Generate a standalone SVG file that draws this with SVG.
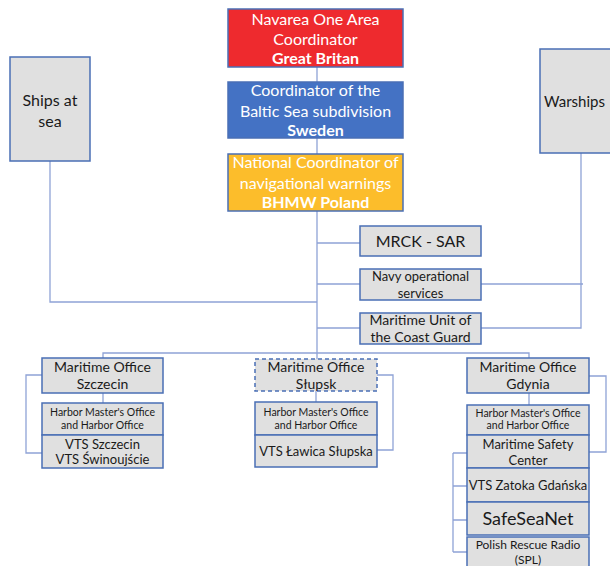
<svg xmlns="http://www.w3.org/2000/svg" width="610" height="566" viewBox="0 0 610 566">
<style>
text{font-family:Lato,"Open Sans","DejaVu Sans",sans-serif;text-anchor:middle;fill:#1a1a1a}
.box{fill:#e0e0e0;stroke:#4a6fb5;stroke-width:1.5}
.w{fill:#ffffff}
.b{font-weight:bold}
.f16{font-size:16px}
.f14{font-size:14px}
.f13{font-size:13px}
.f12{font-size:12px}
.f11{font-size:10.5px}
.f17{font-size:18px}
#connectors path{fill:none;stroke:#8fa3d6;stroke-width:1.3}
</style>
<rect width="610" height="566" fill="#ffffff"/>
<g id="connectors">
<path d="M317 67V82M317 138V154M317 211V359"/>
<path d="M317 243H360M317 284H360M317 328H360"/>
<path d="M50 161V302H317"/>
<path d="M581 153V328H481M481 284H583"/>
<path d="M103 358V353H529V358"/>
<path d="M103 393V403M42 375H26V453H42"/>
<path d="M316 391V402M377 375H393V450H377"/>
<path d="M529 393V405M589 376H606V452H589"/>
<path d="M453 453V552M453 453H467M453 486H467M453 520H467M453 552H467"/>
</g>
<g id="navarea">
<rect x="228" y="9" width="175" height="58" fill="#ee2a2e" stroke="#4a6fb5" stroke-width="1.5"/>
<text class="w f16" x="315.5" y="25">Navarea One Area</text>
<text class="w f16" x="315.5" y="45">Coordinator</text>
<text class="w f16 b" x="315.5" y="64">Great Britan</text>
</g>
<g id="baltic">
<rect x="228" y="82" width="175" height="56" fill="#4472c4" stroke="#4a6fb5" stroke-width="1.5"/>
<text class="w f16" x="315.5" y="96">Coordinator of the</text>
<text class="w f16" x="315.5" y="117">Baltic Sea subdivision</text>
<text class="w f16 b" x="315.5" y="136">Sweden</text>
</g>
<g id="national">
<rect x="228" y="154" width="175" height="57" fill="#fcbd2b" stroke="#4a6fb5" stroke-width="1.5"/>
<text class="w f16" x="315.5" y="168">National Coordinator of</text>
<text class="w f16" x="315.5" y="189">navigational warnings</text>
<text class="w f16 b" x="315.5" y="208">BHMW Poland</text>
</g>
<g id="ships">
<rect class="box" x="10" y="57" width="80" height="104"/>
<text class="f16" x="50" y="106">Ships at</text>
<text class="f16" x="50" y="127">sea</text>
</g>
<g id="warships">
<rect class="box" x="540" y="49" width="80" height="104"/>
<text x="544" y="107" style="text-anchor:start;font-size:15px">Warships</text>
</g>
<g id="mrck">
<rect class="box" x="360" y="226" width="121" height="30"/>
<text class="f16" x="420.5" y="247">MRCK - SAR</text>
</g>
<g id="navy">
<rect class="box" x="360" y="269" width="121" height="31"/>
<text class="f13" x="420.5" y="281">Navy operational</text>
<text class="f13" x="420.5" y="298">services</text>
</g>
<g id="coastguard">
<rect class="box" x="360" y="313" width="121" height="31"/>
<text class="f14" x="420.5" y="325">Maritime Unit of</text>
<text class="f14" x="420.5" y="342">the Coast Guard</text>
</g>
<g id="szczecin">
<rect class="box" x="42" y="358" width="121" height="35"/>
<text class="f14" x="102.5" y="372">Maritime Office</text>
<text class="f14" x="102.5" y="389">Szczecin</text>
</g>
<g id="szczecin-harbor">
<rect class="box" x="42" y="403" width="121" height="32"/>
<text class="f11" x="102.5" y="416">Harbor Master's Office</text>
<text class="f11" x="102.5" y="429">and Harbor Office</text>
</g>
<g id="szczecin-vts">
<rect class="box" x="42" y="435" width="121" height="33"/>
<text class="f13" x="102.5" y="449">VTS Szczecin</text>
<text class="f13" x="102.5" y="464">VTS Świnoujście</text>
</g>
<g id="slupsk">
<rect x="255" y="359" width="122" height="32" fill="#e0e0e0" stroke="#4a6fb5" stroke-width="1.5" stroke-dasharray="4 3"/>
<text class="f14" x="316" y="372">Maritime Office</text>
<text class="f14" x="316" y="389">Słupsk</text>
</g>
<g id="slupsk-harbor">
<rect class="box" x="255" y="402" width="122" height="33"/>
<text class="f11" x="316" y="416">Harbor Master's Office</text>
<text class="f11" x="316" y="429">and Harbor Office</text>
</g>
<g id="slupsk-vts">
<rect class="box" x="255" y="435" width="122" height="32"/>
<text class="f13" x="316" y="456">VTS Ławica Słupska</text>
</g>
<g id="gdynia">
<rect class="box" x="467" y="358" width="122" height="35"/>
<text class="f14" x="528" y="372">Maritime Office</text>
<text class="f14" x="528" y="389">Gdynia</text>
</g>
<g id="gdynia-harbor">
<rect class="box" x="467" y="405" width="122" height="30"/>
<text class="f11" x="528" y="417">Harbor Master's Office</text>
<text class="f11" x="528" y="429">and Harbor Office</text>
</g>
<g id="safety-center">
<rect class="box" x="467" y="435" width="122" height="33"/>
<text class="f13" x="528" y="449">Maritime Safety</text>
<text class="f13" x="528" y="465">Center</text>
</g>
<g id="vts-zatoka">
<rect class="box" x="467" y="468" width="122" height="34"/>
<text class="f13" x="528" y="490">VTS Zatoka Gdańska</text>
</g>
<g id="safeseanet">
<rect class="box" x="467" y="502" width="122" height="33"/>
<text class="f17" x="528" y="525">SafeSeaNet</text>
</g>
<g id="rescue-radio">
<rect class="box" x="467" y="537" width="122" height="40"/>
<text class="f12" x="528" y="549">Polish Rescue Radio</text>
<text class="f12" x="528" y="564">(SPL)</text>
</g>
</svg>
